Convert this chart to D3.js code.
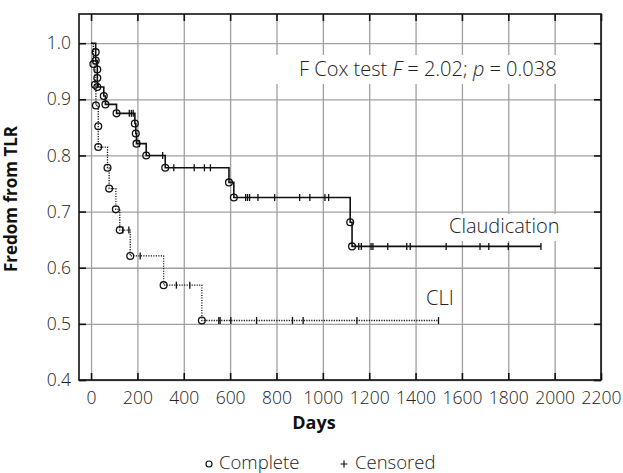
<!DOCTYPE html>
<html>
<head>
<meta charset="utf-8">
<script src="https://cdn.jsdelivr.net/npm/d3@7"></script>
<style>
  body { margin: 0; background: #fff; }
  text { font-family: "Open Sans", "Noto Sans", sans-serif; }
</style>
</head>
<body>
<svg id="svg"></svg>
<script>
// tick labels
const xTicks = [0, 200, 400, 600, 800, 1000, 1200, 1400, 1600, 1800, 2000, 2200]
const yTicks = [0.4, 0.5, 0.6, 0.7, 0.8, 0.9, 1.0]

// Claudication group: event days, survival after each event, censored days
const claudDays = [20, 20, 27, 27, 27, 55, 62, 110, 189, 193, 196, 238, 320, 595, 616, 1118, 1126]
const claudSurv = [0.984, 0.969, 0.953, 0.938, 0.922, 0.906, 0.891, 0.875, 0.857, 0.839, 0.821, 0.800, 0.778, 0.752, 0.725, 0.681, 0.638]
const claudCensored = [165, 174, 182, 209, 309, 357, 445, 489, 515, 667, 675, 684, 720, 792, 900, 944, 1009, 1025,
                       1155, 1166, 1208, 1216, 1280, 1362, 1377, 1532, 1678, 1716, 1800, 1941]

// CLI group
const cliDays = [10, 17, 21, 31, 31, 71, 78, 107, 124, 169, 313, 478]
const cliSurv = [0.963, 0.926, 0.889, 0.852, 0.815, 0.778, 0.741, 0.704, 0.667, 0.621, 0.569, 0.506]
const cliCensored = [137, 163, 212, 368, 426, 551, 557, 603, 714, 869, 915, 1147, 1499]

const W = 623, H = 473
const margin = {top: 14, left: 79, bottom: 93, right: 22}
const textCol = '#222'

let svg = d3.select('#svg').attr('width', W).attr('height', H)

let x = d3.scaleLinear().domain([-52, 2200]).range([margin.left, W - margin.right])
let y = d3.scaleLinear().domain([0.4, 1.052]).range([H - margin.bottom, margin.top])
const plotW = W - margin.left - margin.right
const plotH = H - margin.top - margin.bottom

//gridlines
svg.append('g').attr('class', 'grid')
  .attr('transform', `translate(0,${H - margin.bottom})`)
  .call(d3.axisBottom(x).tickValues(xTicks).tickSize(-plotH).tickFormat(''))
svg.append('g').attr('class', 'grid')
  .attr('transform', `translate(${margin.left},0)`)
  .call(d3.axisLeft(y).tickValues(yTicks).tickSize(-plotW).tickFormat(''))
svg.selectAll('.grid .domain').remove()
svg.selectAll('.grid line').attr('stroke', '#a0a0a0').attr('stroke-width', 1.3)

// white boxes behind the in-plot labels
const boxes = [[262, 55, 330, 29], [440, 214, 126, 27], [423, 287, 33, 23]]
svg.selectAll('rect.lblbox').data(boxes).enter().append('rect')
  .attr('class', 'lblbox')
  .attr('x', d => d[0]).attr('y', d => d[1]).attr('width', d => d[2]).attr('height', d => d[3])
  .attr('fill', '#fff')

// inward tick marks on all four sides
const tickLen = 7
let tickGroups = [
  [`translate(0,${H - margin.bottom})`, d3.axisBottom(x).tickValues(xTicks)],
  [`translate(0,${margin.top})`, d3.axisTop(x).tickValues(xTicks)],
  [`translate(${margin.left},0)`, d3.axisLeft(y).tickValues(yTicks)],
  [`translate(${W - margin.right},0)`, d3.axisRight(y).tickValues(yTicks)]
]
tickGroups.forEach(t => {
  svg.append('g').attr('class', 'marks').attr('transform', t[0])
    .call(t[1].tickSize(-tickLen).tickFormat(''))
})
svg.selectAll('.marks .domain').remove()
svg.selectAll('.marks line').attr('stroke', '#111').attr('stroke-width', 1.6)

// tick labels
svg.append('g').attr('class', 'lab').attr('transform', `translate(0,${H - margin.bottom})`)
  .call(d3.axisBottom(x).tickValues(xTicks).tickSize(0).tickPadding(12).tickFormat(d3.format('d')))
svg.append('g').attr('class', 'lab').attr('transform', `translate(${margin.left},0)`)
  .call(d3.axisLeft(y).tickValues(yTicks).tickSize(0).tickPadding(8).tickFormat(d3.format('.1f')))
svg.selectAll('.lab .domain').remove()
svg.selectAll('.lab text')
  .attr('font-family', '"Open Sans", sans-serif').attr('font-size', 17.5)
  .attr('font-weight', 300).attr('fill', textCol)

//frame
svg.append('rect')
  .attr('x', margin.left).attr('y', margin.top).attr('width', plotW).attr('height', plotH)
  .attr('fill', 'none').attr('stroke', '#111').attr('stroke-width', 1.6)

// build KM step path from events + censored
let stepPoints = (days, surv, cens) => {
  let pts = [[0, 1]]
  let s = 1
  days.forEach((d, i) => {
    pts.push([d, s])
    s = surv[i]
    pts.push([d, s])
  })
  pts.push([d3.max(cens), s])
  return pts
}
let survAt = (days, surv, t) => {
  let s = 1
  days.forEach((d, i) => { if (d <= t) s = surv[i] })
  return s
}
let line = d3.line().x(d => x(d[0])).y(d => y(d[1]))

let groups = [
  {days: claudDays, surv: claudSurv, cens: claudCensored, dash: null},
  {days: cliDays, surv: cliSurv, cens: cliCensored, dash: '1.2,1.3'}
]
groups.forEach(g => {
  svg.append('path')
    .datum(stepPoints(g.days, g.surv, g.cens))
    .attr('d', line)
    .attr('fill', 'none')
    .attr('stroke', '#111')
    .attr('stroke-width', g.dash ? 1.3 : 1.6)
    .attr('stroke-dasharray', g.dash)
  // censored
  svg.append('g').selectAll('line').data(g.cens).enter().append('line')
    .attr('x1', d => x(d)).attr('x2', d => x(d))
    .attr('y1', d => y(survAt(g.days, g.surv, d)) - 3.5)
    .attr('y2', d => y(survAt(g.days, g.surv, d)) + 3.5)
    .attr('stroke', '#111').attr('stroke-width', 1.3)
  // complete
  svg.append('g').selectAll('circle').data(g.days).enter().append('circle')
    .attr('cx', d => x(d)).attr('cy', (d, i) => y(g.surv[i]))
    .attr('r', 3.4)
    .attr('fill', 'none').attr('stroke', '#111').attr('stroke-width', 1.3)
})

// annotations
let ann = svg.append('text').attr('x', 299).attr('y', 76)
  .attr('font-size', 20).attr('font-weight', 300).attr('fill', textCol)
ann.append('tspan').text('F Cox test ')
ann.append('tspan').attr('font-style', 'italic').text('F')
ann.append('tspan').text(' = 2.02; ')
ann.append('tspan').attr('font-style', 'italic').text('p')
ann.append('tspan').text(' = 0.038')

svg.append('text').attr('x', 449).attr('y', 233)
  .attr('font-size', 20).attr('font-weight', 300).attr('fill', textCol).text('Claudication')
svg.append('text').attr('x', 426).attr('y', 305)
  .attr('font-size', 20).attr('font-weight', 300).attr('fill', textCol).text('CLI')

// axis titles
svg.append('text').attr('x', 314).attr('y', 429).attr('text-anchor', 'middle')
  .attr('font-size', 18).attr('font-weight', 'bold').attr('fill', '#111').text('Days')
svg.append('text').attr('transform', 'translate(17,199) rotate(-90)').attr('text-anchor', 'middle')
  .attr('font-size', 17).attr('font-weight', 'bold').attr('fill', '#111').text('Fredom from TLR')

// legend
svg.append('circle').attr('cx', 209).attr('cy', 464).attr('r', 3)
  .attr('fill', 'none').attr('stroke', '#111').attr('stroke-width', 1.2)
svg.append('text').attr('x', 219).attr('y', 468.5)
  .attr('font-size', 18.5).attr('font-weight', 300).attr('fill', textCol).text('Complete')
svg.append('path').attr('d', 'M340.5,464h7M344,460.5v7')
  .attr('stroke', '#111').attr('stroke-width', 1.2)
svg.append('text').attr('x', 355).attr('y', 468.5)
  .attr('font-size', 18.5).attr('font-weight', 300).attr('fill', textCol).text('Censored')
</script>
</body>
</html>
